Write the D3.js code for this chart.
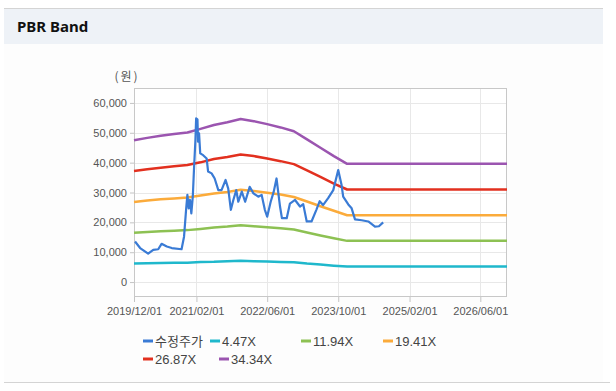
<!DOCTYPE html>
<html><head><meta charset="utf-8">
<script src="https://cdn.jsdelivr.net/npm/d3@7"></script>
<style>
html,body{margin:0;padding:0;background:#fff;}
svg{display:block;}
</style></head>
<body>
<svg id="chart" width="616" height="391"></svg>
<script>
// ---- data ----
const priceDates = ["2019-12-08","2020-01-12","2020-03-07","2020-04-11","2020-05-15","2020-06-07","2020-07-13","2020-08-16","2020-10-22","2020-11-08","2020-11-22","2020-12-01","2020-12-10","2020-12-19","2020-12-28","2021-01-07","2021-01-16","2021-01-25","2021-01-30","2021-02-08","2021-02-12","2021-02-19","2021-02-27","2021-03-19","2021-04-12","2021-04-22","2021-05-16","2021-06-06","2021-07-01","2021-07-23","2021-08-20","2021-09-07","2021-09-25","2021-10-12","2021-11-01","2021-11-15","2021-12-09","2022-01-01","2022-02-01","2022-02-27","2022-04-01","2022-04-24","2022-05-16","2022-06-01","2022-06-25","2022-07-16","2022-08-04","2022-08-28","2022-09-10","2022-10-13","2022-11-04","2022-12-09","2023-01-12","2023-02-03","2023-02-27","2023-04-01","2023-05-04","2023-05-27","2023-06-19","2023-07-24","2023-08-28","2023-10-01","2023-10-24","2023-11-04","2023-12-09","2024-01-01","2024-01-24","2024-03-10","2024-04-24","2024-06-09","2024-07-06","2024-08-04"];
const priceValues = [13600,11400,9500,10800,11000,12800,11900,11400,11000,15200,24200,29200,24700,27500,23000,28600,38600,47500,54800,54500,47000,49800,43100,42500,41400,37000,36400,34700,30800,30800,34200,31300,24200,27500,30800,26900,30300,26900,31900,29700,28600,29200,24200,21900,26900,30300,34700,25300,21400,21400,26300,27500,25300,26100,20300,20300,24200,27100,25800,28100,30800,37500,32500,28600,26000,24700,21000,20700,20300,18600,18700,20000];

const bandDates = ["2019-12-01","2020-03-01","2020-06-01","2020-09-01","2020-12-01","2021-03-01","2021-06-01","2021-09-01","2021-12-01","2022-03-01","2022-06-01","2022-09-01","2022-12-01","2023-03-01","2023-06-01","2023-09-01","2023-12-01","2026-12-01"];
const band447  = [6200,6300,6400,6500,6500,6700,6800,7000,7100,7000,6900,6700,6600,6200,5900,5500,5200,5200];
const band1194 = [16500,16800,17000,17200,17400,17800,18300,18600,19000,18700,18400,18000,17600,16600,15600,14700,13800,13800];
const band1941 = [26800,27300,27700,28000,28300,29000,29700,30200,30900,30500,29900,29300,28500,27000,25400,23900,22400,22400];
const band2687 = [37200,37800,38300,38800,39200,40100,41200,41900,42700,42200,41400,40500,39500,37400,35200,33000,31000,31000];
const band3434 = [47500,48300,49000,49600,50100,51300,52600,53500,54600,53900,52900,51800,50500,47800,45000,42200,39600,39600];

const seriesNames = ["수정주가","4.47X","11.94X","19.41X","26.87X","34.34X"];
const seriesColors = ["#3a7bd5","#1fb8cc","#8dc153","#fbab3b","#e2301f","#9b55b0"];
const yTicks = [0,10000,20000,30000,40000,50000,60000];
const xTickLabels = ["2019/12/01","2021/02/01","2022/06/01","2023/10/01","2025/02/01","2026/06/01"];

// ---- drawing ----
const svg = d3.select("#chart");
const parse = d3.timeParse("%Y-%m-%d");
const parseTick = d3.timeParse("%Y/%m/%d");

// panel
svg.append("rect").attr("x",4).attr("y",8).attr("width",599).attr("height",374).attr("fill","#fdfdfd");
svg.append("rect").attr("x",4).attr("y",9).attr("width",599).attr("height",35).attr("fill","#eef2f7");
svg.append("line").attr("x1",4).attr("x2",603).attr("y1",8.5).attr("y2",8.5).attr("stroke","#d4d4d4");
svg.append("line").attr("x1",4).attr("x2",610).attr("y1",382.5).attr("y2",382.5).attr("stroke","#d4d4d4");
svg.append("text").attr("x",17).attr("y",32).text("PBR Band")
  .attr("font-family","'Noto Sans', 'DejaVu Sans', sans-serif").attr("font-weight","bold")
  .attr("font-size",15).attr("fill","#111");

const L=134, R=507, T=88, B=297;
const x = d3.scaleTime().domain([parse("2019-12-01"), parse("2026-12-01")]).range([L,R]);
const y = d3.scaleLinear().domain([-5000,65000]).range([B,T]);

svg.append("rect").attr("x",L).attr("y",T).attr("width",R-L).attr("height",B-T).attr("fill","#fff");

// grid
const xTicks = xTickLabels.map(parseTick);
svg.append("g").selectAll("line").data(yTicks).join("line")
  .attr("x1",L).attr("x2",R).attr("y1",d=>Math.round(y(d))+0.5).attr("y2",d=>Math.round(y(d))+0.5)
  .attr("stroke","#e8e8e8");
svg.append("g").selectAll("line").data(xTicks).join("line")
  .attr("y1",T).attr("y2",B).attr("x1",d=>Math.round(x(d))+0.5).attr("x2",d=>Math.round(x(d))+0.5)
  .attr("stroke","#e8e8e8");

// axes
const font = "'Liberation Sans', Arial, sans-serif";
const yAxis = svg.append("g").attr("transform",`translate(${L},0)`)
  .call(d3.axisLeft(y).tickValues(yTicks).tickFormat(d3.format(",")).tickSize(4).tickPadding(3));
const xAxis = svg.append("g").attr("transform",`translate(0,${B})`)
  .call(d3.axisBottom(x).tickValues(xTicks).tickFormat(d3.timeFormat("%Y/%m/%d")).tickSize(5).tickPadding(5));
[yAxis,xAxis].forEach(g=>{
  g.select(".domain").remove();
  g.selectAll(".tick line").attr("stroke","#c4c4c4");
  g.selectAll("text").attr("font-family",font).attr("font-size",11).attr("fill","#555");
});

// frame
svg.append("rect").attr("x",L+0.5).attr("y",T+0.5).attr("width",R-L-1).attr("height",B-T-1)
  .attr("fill","none").attr("stroke","#c8c8c8");

svg.append("text").attr("x",127).attr("y",81).attr("text-anchor","middle")
  .attr("font-family","'Noto Sans CJK KR', sans-serif").attr("font-size",12)
  .attr("letter-spacing",2).attr("fill","#555").text("(원)");

// lines
const line = d3.line().x(d=>x(d[0])).y(d=>y(d[1]));
const bandDateObjs = bandDates.map(parse);
const bands = [band447, band1194, band1941, band2687, band3434];
bands.forEach((vals,i)=>{
  svg.append("path").datum(bandDateObjs.map((d,j)=>[d,vals[j]]))
    .attr("d",line).attr("fill","none").attr("stroke",seriesColors[i+1]).attr("stroke-width",2.5)
    .attr("stroke-linejoin","round");
});
svg.append("path").datum(priceDates.map((d,j)=>[parse(d),priceValues[j]]))
  .attr("d",line).attr("fill","none").attr("stroke",seriesColors[0]).attr("stroke-width",2.2)
  .attr("stroke-linejoin","round");

// legend
const legendPos = [[143,341],[210,341],[301,341],[383,341],[143,359],[219,359]];
const lg = svg.append("g");
seriesNames.forEach((n,i)=>{
  const [lx,ly] = legendPos[i];
  lg.append("line").attr("x1",lx).attr("x2",lx+10).attr("y1",ly).attr("y2",ly)
    .attr("stroke",seriesColors[i]).attr("stroke-width",3);
  lg.append("text").attr("x",lx+12).attr("y",ly+4.5).text(n)
    .attr("font-family", i===0 ? "'Noto Sans CJK KR', sans-serif" : font)
    .attr("font-size",13).attr("fill","#444");
});
</script>
</body></html>
